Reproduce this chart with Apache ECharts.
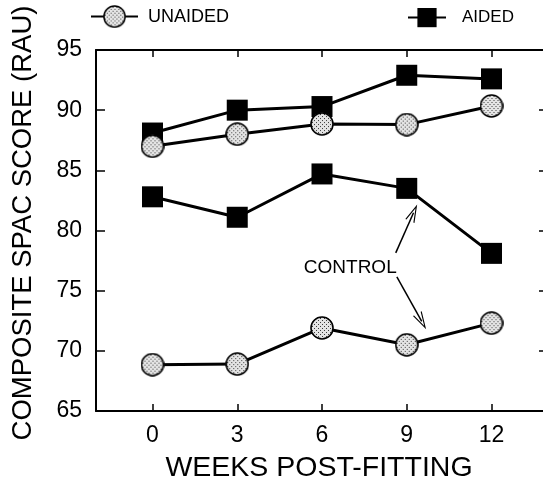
<!DOCTYPE html>
<html>
<head>
<meta charset="utf-8">
<script src="https://cdn.jsdelivr.net/npm/echarts@6/dist/echarts.min.js"></script>
<style>
  html, body { margin: 0; padding: 0; background: #fff; }
  #chart { width: 543px; height: 487px; }
</style>
</head>
<body>
<div id="chart"></div>
<script>
// Weeks after hearing-aid fitting
const weeks = [0, 3, 6, 9, 12];
const weekTicks = [0, 3, 6, 9, 12];
const scoreTicks = [65, 70, 75, 80, 85, 90, 95];

// Composite SPAC scores (RAU), experimental group
const aided = [88.1, 90.0, 90.3, 92.9, 92.6];
const unaided = [87.0, 88.0, 88.85, 88.8, 90.35];

// Composite SPAC scores (RAU), control group
const controlAided = [82.8, 81.1, 84.7, 83.5, 78.1];
const controlUnaided = [68.85, 68.9, 71.9, 70.5, 72.3];

// Annotation placement in axis units (week, score)
const controlLabelAt = [7.0, 76.9];
const arrowToAided = [[8.61, 78.14], [9.24, 81.48]];
const arrowToUnaided = [[8.65, 76.15], [9.53, 72.44]];

const FONT = '"Liberation Sans", Arial, Helvetica, sans-serif';

// Stippled grey disc with a black rim, used as the "unaided" marker
function stippledDisc(size) {
  const c = document.createElement('canvas');
  c.width = size; c.height = size;
  const g = c.getContext('2d');
  const r = size / 2;
  g.save();
  g.beginPath();
  g.arc(r, r, r - 0.8, 0, Math.PI * 2);
  g.clip();
  g.fillStyle = '#e4e4e4';
  g.fillRect(0, 0, size, size);
  g.fillStyle = '#3c3c3c';
  for (let y = 0; y < size; y++) {
    for (let x = 0; x < size; x++) {
      if ((x % 4 === 0 && y % 4 === 0) || (x % 4 === 2 && y % 4 === 2)) {
        g.fillRect(x, y, 1, 1);
      }
    }
  }
  g.restore();
  g.beginPath();
  g.arc(r, r, r - 1, 0, Math.PI * 2);
  g.lineWidth = 1.6;
  g.strokeStyle = '#000';
  g.stroke();
  return 'image://' + c.toDataURL('image/png');
}
const discSymbol = stippledDisc(24);

const pairs = vals => weeks.map((w, i) => [w, vals[i]]);

// open V-shaped arrow head
const openArrow = 'path://M5,0 L10,20 L8.8,20 L5,4.5 L1.2,20 L0,20 Z';

const squareStyle = {
  type: 'line',
  symbol: 'rect',
  symbolSize: 21,
  itemStyle: { color: '#000' },
  lineStyle: { color: '#000', width: 3 },
  emphasis: { disabled: true },
  silent: true,
  animation: false
};
const circleStyle = {
  type: 'line',
  symbol: discSymbol,
  symbolSize: 24,
  itemStyle: { color: '#000' },
  lineStyle: { color: '#000', width: 3 },
  emphasis: { disabled: true },
  silent: true,
  animation: false
};

function arrowLine(seg) {
  return {
    silent: true,
    animation: false,
    symbol: ['none', openArrow],
    symbolSize: [10, 18],
    label: { show: false },
    lineStyle: { color: '#000', width: 1.5, type: 'solid' },
    emphasis: { disabled: true },
    data: [[{ coord: seg[0] }, { coord: seg[1] }]]
  };
}

const axisLine = { show: true, onZero: false, lineStyle: { color: '#000', width: 2 } };

const chart = echarts.init(document.getElementById('chart'), null, { renderer: 'canvas' });

chart.setOption({
  backgroundColor: '#fff',
  animation: false,
  textStyle: { fontFamily: FONT, color: '#000' },
  grid: { left: 96, top: 50, right: -5, bottom: 76, outerBoundsMode: 'none', containLabel: false },
  legend: [
    {
      data: ['UNAIDED'],
      left: 90, top: 5, padding: 0,
      itemWidth: 47, itemHeight: 29,
      selectedMode: false,
      textStyle: { fontFamily: FONT, fontSize: 18, color: '#000', padding: [0, 0, 0, 5] }
    },
    {
      data: ['AIDED'],
      left: 407, top: 8, padding: 0,
      itemWidth: 38, itemHeight: 24,
      selectedMode: false,
      textStyle: { fontFamily: FONT, fontSize: 17, color: '#000', padding: [0, 0, 0, 11] }
    }
  ],
  xAxis: [
    {
      type: 'value', min: -2, max: 14, position: 'bottom',
      name: 'WEEKS POST-FITTING', nameLocation: 'middle', nameGap: 43,
      nameTextStyle: { fontFamily: FONT, fontSize: 28.5, color: '#000', padding: [0, 6, 0, 0] },
      axisLine: axisLine,
      axisTick: { show: true, inside: true, length: 7, customValues: weekTicks, lineStyle: { color: '#000', width: 1.5 } },
      axisLabel: { show: true, customValues: weekTicks, margin: 13, fontFamily: FONT, fontSize: 23, color: '#000' },
      splitLine: { show: false }
    },
    {
      type: 'value', min: -2, max: 14, position: 'top',
      axisLine: axisLine,
      axisTick: { show: true, inside: true, length: 7, customValues: weekTicks, lineStyle: { color: '#000', width: 1.5 } },
      axisLabel: { show: false },
      splitLine: { show: false }
    }
  ],
  yAxis: [
    {
      type: 'value', min: 65, max: 95, interval: 5, position: 'left',
      name: 'COMPOSITE SPAC SCORE (RAU)', nameLocation: 'middle', nameGap: 59,
      nameTextStyle: { fontFamily: FONT, fontSize: 27.5, color: '#000', padding: [0, 0, 0, 15] },
      axisLine: axisLine,
      axisTick: { show: true, inside: true, length: 9, lineStyle: { color: '#000', width: 1.5 } },
      axisLabel: {
        show: true, margin: 14, fontFamily: FONT, fontSize: 23, color: '#000',
        customValues: scoreTicks
      },
      splitLine: { show: false }
    },
    {
      type: 'value', min: 65, max: 95, interval: 5, position: 'right',
      axisLine: axisLine,
      axisTick: { show: true, inside: true, length: 9, lineStyle: { color: '#000', width: 1.5 } },
      axisLabel: { show: false },
      splitLine: { show: false }
    }
  ],
  series: [
    Object.assign({}, squareStyle, {
      name: 'CONTROL AIDED',
      data: pairs(controlAided),
      markLine: arrowLine(arrowToAided),
      markPoint: {
        silent: true,
        symbol: 'circle', symbolSize: 0,
        label: {
          show: true, position: 'inside', formatter: 'CONTROL',
          fontFamily: FONT, fontSize: 19, color: '#000'
        },
        data: [{ coord: controlLabelAt }]
      }
    }),
    Object.assign({}, circleStyle, {
      name: 'CONTROL UNAIDED',
      data: pairs(controlUnaided),
      markLine: arrowLine(arrowToUnaided)
    }),
    Object.assign({}, squareStyle, { name: 'AIDED', data: pairs(aided) }),
    Object.assign({}, circleStyle, { name: 'UNAIDED', data: pairs(unaided) })
  ]
});
</script>
</body>
</html>
